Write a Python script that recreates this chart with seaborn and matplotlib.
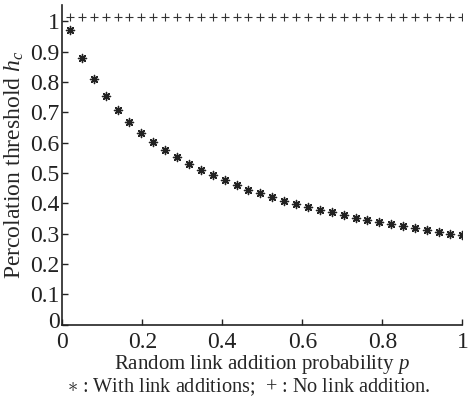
import matplotlib
matplotlib.use("Agg")
import matplotlib.pyplot as plt
import matplotlib.transforms as mtransforms
import seaborn as sns
import pandas as pd

# random link addition probability p
p_vals = [0.020, 0.050, 0.079, 0.109, 0.139, 0.168, 0.198, 0.228, 0.258, 0.287,
          0.317, 0.347, 0.376, 0.406, 0.436, 0.465, 0.495, 0.525, 0.555, 0.584,
          0.614, 0.644, 0.673, 0.703, 0.733, 0.762, 0.792, 0.822, 0.852, 0.881,
          0.911, 0.941, 0.970, 1.000]

# percolation threshold with link additions
hc_with = [0.972, 0.880, 0.810, 0.754, 0.708, 0.667, 0.633, 0.602, 0.575, 0.552,
           0.530, 0.510, 0.493, 0.476, 0.460, 0.445, 0.433, 0.420, 0.409, 0.399,
           0.387, 0.378, 0.371, 0.362, 0.353, 0.345, 0.339, 0.332, 0.325, 0.318,
           0.312, 0.306, 0.300, 0.295]

# percolation threshold without link addition
hc_none = [1.015] * len(p_vals)

df = pd.DataFrame({"p": p_vals, "with": hc_with, "none": hc_none})

sns.set_style("ticks")
plt.rcParams["font.family"] = ["Liberation Serif", "DejaVu Serif"]
plt.rcParams["mathtext.fontset"] = "custom"
plt.rcParams["mathtext.rm"] = "Liberation Serif"
plt.rcParams["mathtext.it"] = "Liberation Serif:italic"
plt.rcParams["xtick.direction"] = "in"
plt.rcParams["ytick.direction"] = "in"

fig = plt.figure(figsize=(4.68, 4.03), dpi=100)
ax = fig.add_axes([0.133, 0.194, 0.855, 0.794])

sns.scatterplot(data=df, x="p", y="with", marker=(8, 2, 0), s=34,
                color="#222222", linewidth=1.0, ax=ax)
sns.scatterplot(data=df, x="p", y="none", marker="+", s=36,
                color="#333333", linewidth=0.8, ax=ax)

ax.set_xlim(0, 1)
ax.set_ylim(0, 1.054)
ax.set_xticks([0, 0.2, 0.4, 0.6, 0.8, 1])
ax.set_xticklabels(["0", "0.2", "0.4", "0.6", "0.8", "1"])
ax.set_yticks([0, 0.1, 0.2, 0.3, 0.4, 0.5, 0.6, 0.7, 0.8, 0.9, 1])
ax.set_yticklabels(["0", "0.1", "0.2", "0.3", "0.4", "0.5", "0.6", "0.7", "0.8", "0.9", "1"])
ax.tick_params(labelsize=17, length=4, width=1, colors="#222222")
ax.tick_params(axis="x", pad=5)
ax.tick_params(axis="y", pad=2)
for s in ["left", "bottom"]:
    ax.spines[s].set_linewidth(1.2)
    ax.spines[s].set_color("#222222")
sns.despine(ax=ax)

# MATLAB-like corner: y "0" sits a little higher than the x "0"
ylab0 = ax.get_yticklabels()[0]
ylab0.set_transform(ylab0.get_transform() +
                    mtransforms.ScaledTranslation(0, 5 / 100, fig.dpi_scale_trans))

ax.set_xlabel("Random link addition probability $p$", fontsize=15, labelpad=0)
ax.set_ylabel("Percolation threshold $h_c$", fontsize=17, labelpad=3)
fig.text(0.531, 0.012, "$\\ast$ : With link additions;  + : No link addition.",
         ha="center", va="bottom", fontsize=14.6)

fig.savefig("out.png", dpi=100)
